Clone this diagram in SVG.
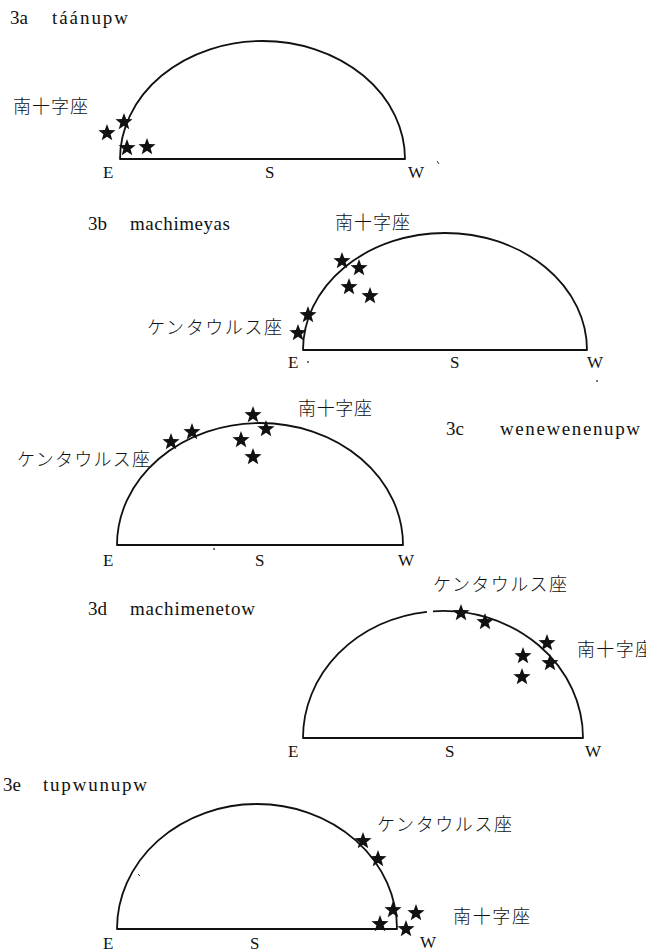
<svg xmlns="http://www.w3.org/2000/svg" xmlns:xlink="http://www.w3.org/1999/xlink" width="646" height="952" viewBox="0 0 646 952">
<style>
.bg{fill:#fff}
.dome{fill:none;stroke:#111;stroke-width:1.8;stroke-linejoin:round}
.lat{font-family:"Liberation Serif","DejaVu Serif",serif;fill:#111}
.ttl{font-size:19px}
.dir{font-size:17px}
.jp{font-family:"Noto Sans CJK JP","Noto Sans CJK SC",sans-serif;font-size:18px;font-weight:300;fill:#111}
.dot{fill:#333}
</style>
<defs>
<path id="star" d="M0,-9 L2.2,-3.0 L8.56,-2.78 L3.6,1.2 L5.29,7.28 L0,3.8 L-5.29,7.28 L-3.6,1.2 L-8.56,-2.78 L-2.2,-3.0 Z" fill="#111"/>
</defs>
<rect class="bg" x="0" y="0" width="646" height="952"/>

<g id="panel-3a">
<text class="lat ttl" x="10" y="24">3a</text>
<text class="lat ttl" x="52" y="24" textLength="76" lengthAdjust="spacing">táánupw</text>
<path class="dome" d="M120,159 A142.5,118 0 0 1 405,159 Z"/>
<text class="jp" x="13" y="113" textLength="75" lengthAdjust="spacing">南十字座</text>
<use xlink:href="#star" x="107" y="133"/>
<use xlink:href="#star" x="124" y="122"/>
<use xlink:href="#star" x="127" y="148"/>
<use xlink:href="#star" x="147" y="147"/>
<text class="lat dir" x="103" y="178">E</text>
<text class="lat dir" x="265" y="178">S</text>
<text class="lat dir" x="408" y="178">W</text>
<path d="M437,161 L439,164" stroke="#333" stroke-width="1"/>
</g>

<g id="panel-3b">
<text class="lat ttl" x="88" y="230">3b</text>
<text class="lat ttl" x="130" y="230" textLength="100" lengthAdjust="spacing">machimeyas</text>
<path class="dome" d="M303,350 A142,117 0 0 1 587,350 Z"/>
<text class="jp" x="335" y="229" textLength="75" lengthAdjust="spacing">南十字座</text>
<text class="jp" x="147" y="334" textLength="135" lengthAdjust="spacing">ケンタウルス座</text>
<use xlink:href="#star" x="342" y="261"/>
<use xlink:href="#star" x="359" y="268"/>
<use xlink:href="#star" x="349" y="287"/>
<use xlink:href="#star" x="370" y="296"/>
<use xlink:href="#star" x="308" y="315"/>
<use xlink:href="#star" x="298" y="333"/>
<text class="lat dir" x="288" y="368">E</text>
<circle class="dot" cx="308" cy="362" r="0.9"/>
<text class="lat dir" x="450" y="368">S</text>
<text class="lat dir" x="587" y="368">W</text>
<circle class="dot" cx="597" cy="381" r="0.9"/>
</g>

<g id="panel-3c">
<text class="lat ttl" x="446" y="435">3c</text>
<text class="lat ttl" x="500" y="435" textLength="140" lengthAdjust="spacing">wenewenenupw</text>
<path class="dome" d="M117,545 A143,122 0 0 1 403,545 Z"/>
<text class="jp" x="298" y="415" textLength="74" lengthAdjust="spacing">南十字座</text>
<text class="jp" x="17" y="466" textLength="133" lengthAdjust="spacing">ケンタウルス座</text>
<use xlink:href="#star" x="171" y="442"/>
<use xlink:href="#star" x="192" y="432"/>
<use xlink:href="#star" x="253" y="415"/>
<use xlink:href="#star" x="266" y="429"/>
<use xlink:href="#star" x="241" y="440"/>
<use xlink:href="#star" x="253" y="457"/>
<text class="lat dir" x="103" y="566">E</text>
<circle class="dot" cx="214" cy="549" r="0.9"/>
<text class="lat dir" x="255" y="566">S</text>
<text class="lat dir" x="398" y="566">W</text>
</g>

<g id="panel-3d">
<text class="lat ttl" x="88" y="615">3d</text>
<text class="lat ttl" x="130" y="615" textLength="125" lengthAdjust="spacing">machimenetow</text>
<path class="dome" d="M427,611.8 A140,127 0 0 0 303,738 L583,738 A140,127 0 0 0 433,611.3"/>
<text class="jp" x="433" y="591" textLength="134" lengthAdjust="spacing">ケンタウルス座</text>
<text class="jp" x="577" y="656" textLength="76" lengthAdjust="spacing">南十字座</text>
<use xlink:href="#star" x="461" y="613"/>
<use xlink:href="#star" x="485" y="622"/>
<use xlink:href="#star" x="547" y="643"/>
<use xlink:href="#star" x="523" y="656"/>
<use xlink:href="#star" x="550" y="663"/>
<use xlink:href="#star" x="522" y="677"/>
<text class="lat dir" x="288" y="757">E</text>
<text class="lat dir" x="445" y="757">S</text>
<text class="lat dir" x="585" y="757">W</text>
</g>

<g id="panel-3e">
<text class="lat ttl" x="3" y="791">3e</text>
<text class="lat ttl" x="43" y="791" textLength="104" lengthAdjust="spacing">tupwunupw</text>
<path class="dome" d="M117,929 A140,125 0 0 1 397,929 Z"/>
<text class="jp" x="377" y="831" textLength="135" lengthAdjust="spacing">ケンタウルス座</text>
<text class="jp" x="453" y="923" textLength="77" lengthAdjust="spacing">南十字座</text>
<use xlink:href="#star" x="363" y="841"/>
<use xlink:href="#star" x="378" y="859"/>
<use xlink:href="#star" x="393" y="910"/>
<use xlink:href="#star" x="416" y="913"/>
<use xlink:href="#star" x="380" y="924"/>
<use xlink:href="#star" x="406" y="929"/>
<text class="lat dir" x="103" y="949">E</text>
<text class="lat dir" x="250" y="949">S</text>
<text class="lat dir" x="420" y="948">W</text>
<path d="M138,874 L140,876" stroke="#333" stroke-width="1"/>
</g>
</svg>
